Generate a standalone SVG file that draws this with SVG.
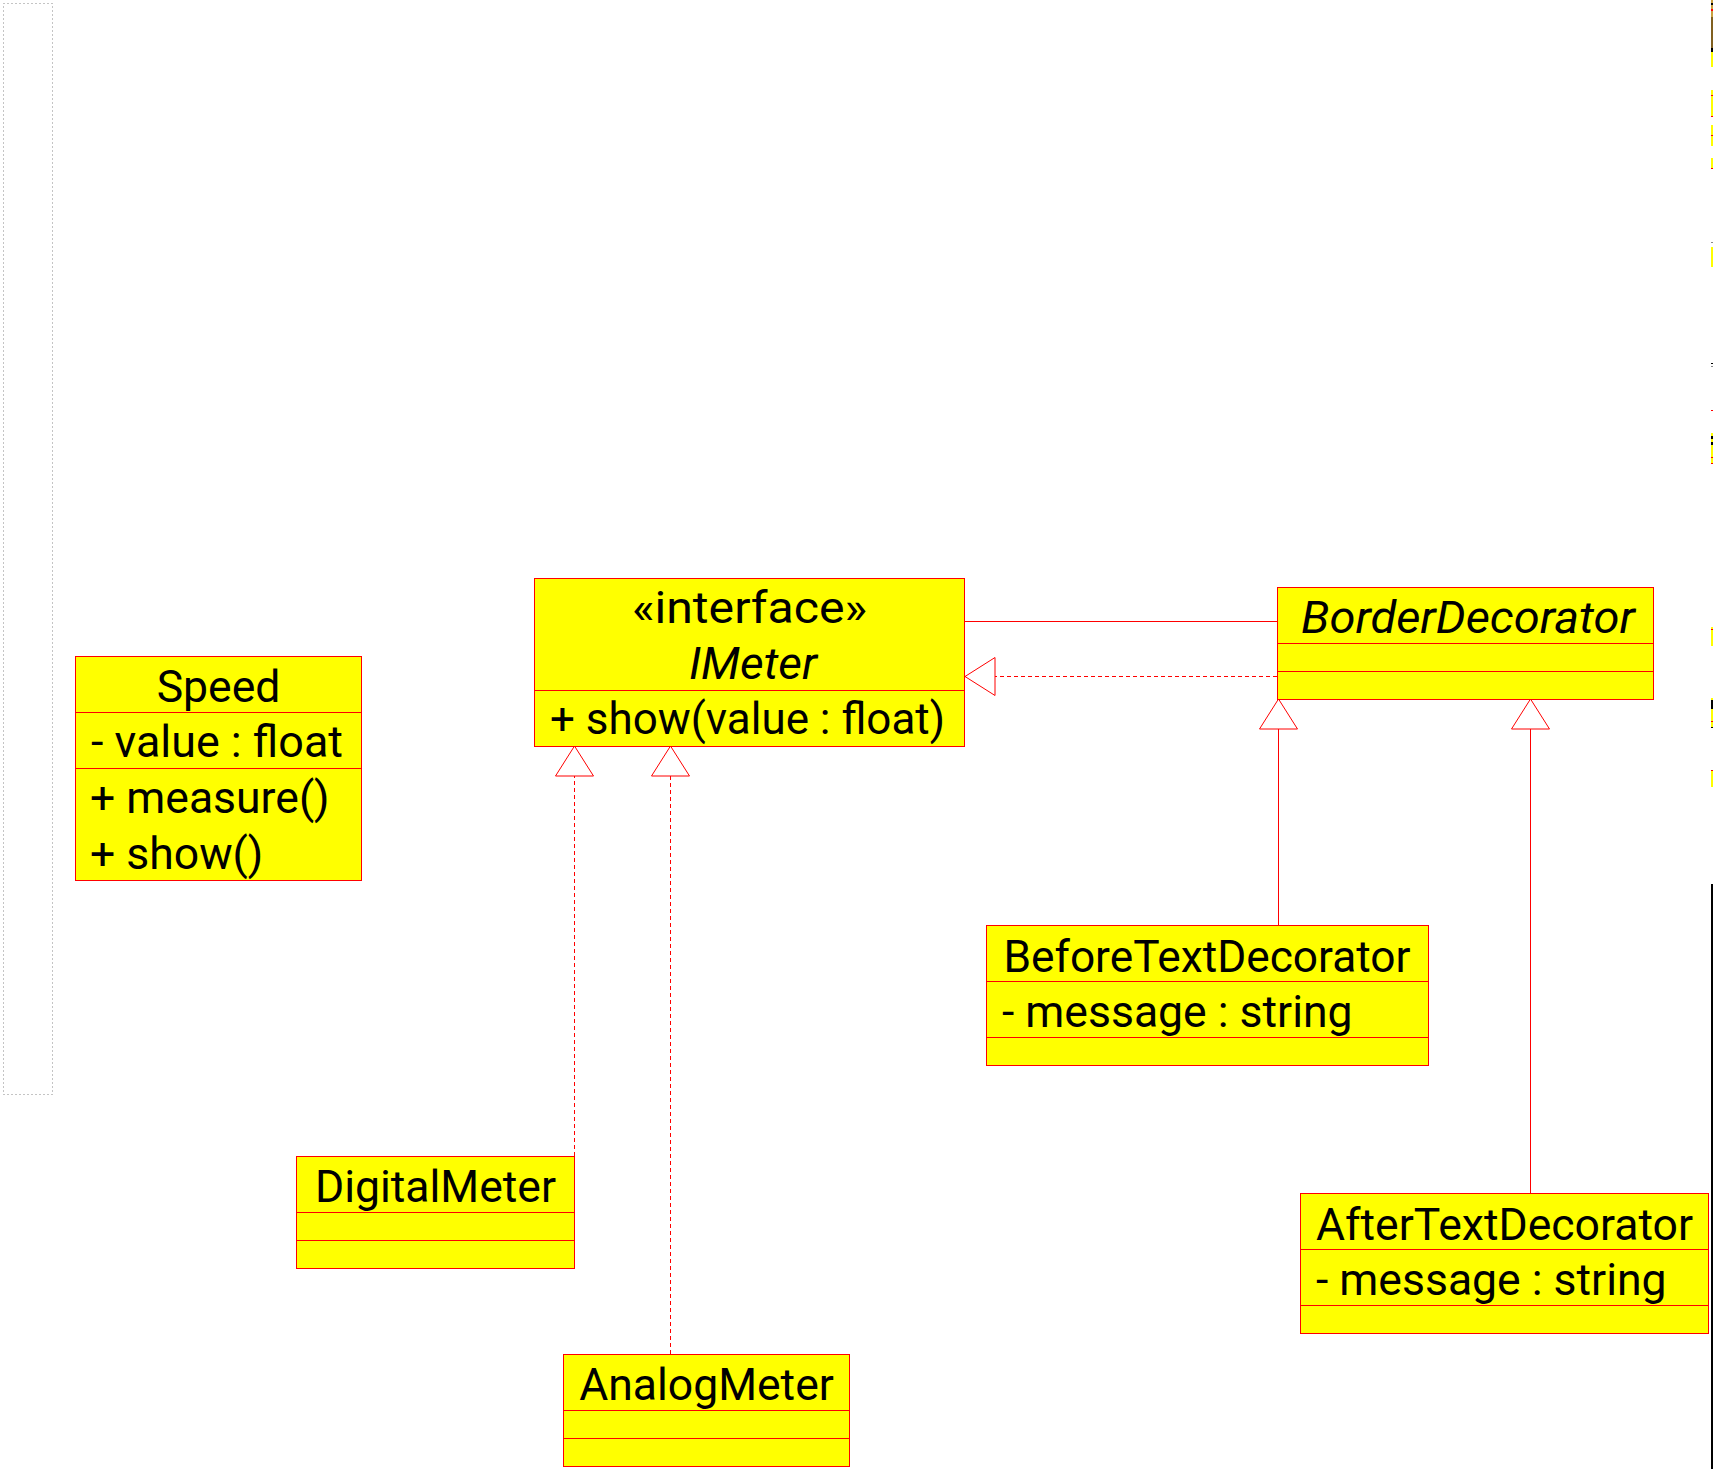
<svg xmlns="http://www.w3.org/2000/svg" width="1713" height="1469" viewBox="0 0 1713 1469">
<style>
.box{fill:#ffff00;stroke:#ff0000;stroke-width:1}
.div{stroke:#ff0000;stroke-width:1}
.t{font-family:Roboto,"Liberation Sans",sans-serif;font-size:44.5px;fill:#000}
.c{text-anchor:middle}
.i{font-style:italic}
.conn{fill:none;stroke:#ff0000;stroke-width:1}
.dash{stroke-dasharray:4 3}
.frag{stroke:none}
</style>
<defs>
<marker id="tri" markerUnits="userSpaceOnUse" viewBox="-1 -1 32 40" refX="30" refY="19" markerWidth="32" markerHeight="40" orient="auto" overflow="visible">
<path d="M0,0 L30,19 L0,38 Z" fill="#ffffff" stroke="#ff0000" stroke-width="1"/>
</marker>
</defs>
<rect x="0" y="0" width="1713" height="1469" fill="#ffffff"/>
<rect x="3.5" y="3.5" width="49" height="1091" fill="none" stroke="#888888" stroke-width="1" stroke-dasharray="1 3"/>

<g id="connectors">
<path class="conn" d="M965,621.5 L1277,621.5"/>
<path class="conn dash" d="M1277,676.5 L965,676.5" marker-end="url(#tri)"/>
<path class="conn dash" d="M574.5,1156 L574.5,746" marker-end="url(#tri)"/>
<path class="conn dash" d="M670.5,1354 L670.5,746" marker-end="url(#tri)"/>
<path class="conn" d="M1278.5,925 L1278.5,699" marker-end="url(#tri)"/>
<path class="conn" d="M1530.5,1193 L1530.5,699" marker-end="url(#tri)"/>
</g>

<g id="Speed">
<rect class="box" x="75.5" y="656.5" width="286" height="224"/>
<line class="div" x1="75.5" y1="712.5" x2="361.5" y2="712.5"/>
<line class="div" x1="75.5" y1="768.5" x2="361.5" y2="768.5"/>
<text class="t c" x="218.5" y="702">Speed</text>
<text class="t" x="91" y="757" textLength="252" lengthAdjust="spacingAndGlyphs">- value : float</text>
<text class="t" x="90" y="813">+ measure()</text>
<text class="t" x="90" y="869">+ show()</text>
</g>

<g id="IMeter">
<rect class="box" x="534.5" y="578.5" width="430" height="168"/>
<line class="div" x1="534.5" y1="690.5" x2="964.5" y2="690.5"/>
<text class="t c" x="749.5" y="623" textLength="235" lengthAdjust="spacingAndGlyphs">«interface»</text>
<text class="t c i" x="753" y="679" textLength="128" lengthAdjust="spacingAndGlyphs">IMeter</text>
<text class="t" x="550" y="734" textLength="395" lengthAdjust="spacingAndGlyphs">+ show(value : float)</text>
</g>

<g id="BorderDecorator">
<rect class="box" x="1277.5" y="587.5" width="376" height="112"/>
<line class="div" x1="1277.5" y1="643.5" x2="1653.5" y2="643.5"/>
<line class="div" x1="1277.5" y1="671.5" x2="1653.5" y2="671.5"/>
<text class="t c i" x="1468" y="633" textLength="334" lengthAdjust="spacingAndGlyphs">BorderDecorator</text>
</g>

<g id="BeforeTextDecorator">
<rect class="box" x="986.5" y="925.5" width="442" height="140"/>
<line class="div" x1="986.5" y1="981.5" x2="1428.5" y2="981.5"/>
<line class="div" x1="986.5" y1="1037.5" x2="1428.5" y2="1037.5"/>
<text class="t c" x="1207" y="972" textLength="407" lengthAdjust="spacingAndGlyphs">BeforeTextDecorator</text>
<text class="t" x="1002" y="1027">- message : string</text>
</g>

<g id="DigitalMeter">
<rect class="box" x="296.5" y="1156.5" width="278" height="112"/>
<line class="div" x1="296.5" y1="1212.5" x2="574.5" y2="1212.5"/>
<line class="div" x1="296.5" y1="1240.5" x2="574.5" y2="1240.5"/>
<text class="t c" x="435.5" y="1202">DigitalMeter</text>
</g>

<g id="AnalogMeter">
<rect class="box" x="563.5" y="1354.5" width="286" height="112"/>
<line class="div" x1="563.5" y1="1410.5" x2="849.5" y2="1410.5"/>
<line class="div" x1="563.5" y1="1438.5" x2="849.5" y2="1438.5"/>
<text class="t c" x="706.5" y="1400">AnalogMeter</text>
</g>

<g id="AfterTextDecorator">
<rect class="box" x="1300.5" y="1193.5" width="408" height="140"/>
<line class="div" x1="1300.5" y1="1249.5" x2="1708.5" y2="1249.5"/>
<line class="div" x1="1300.5" y1="1305.5" x2="1708.5" y2="1305.5"/>
<text class="t c" x="1504.5" y="1240" textLength="377" lengthAdjust="spacingAndGlyphs">AfterTextDecorator</text>
<text class="t" x="1316" y="1295">- message : string</text>
</g>

<g id="edge-fragments">
<rect class="frag" x="1711" y="0" width="2" height="17" fill="#c8a040"/>
<rect class="frag" x="1711" y="3" width="2" height="2" fill="#000"/>
<rect class="frag" x="1711" y="9" width="2" height="2" fill="#ff0000"/>
<rect class="frag" x="1711" y="17" width="2" height="31" fill="#806020"/>
<rect class="frag" x="1711" y="48" width="2" height="4" fill="#000"/>
<rect class="frag" x="1711" y="52" width="2" height="15" fill="#ffff00"/>
<rect class="frag" x="1711" y="90" width="2" height="27" fill="#ffff00"/>
<rect class="frag" x="1711" y="95" width="2" height="1" fill="#ff0000"/>
<rect class="frag" x="1711" y="116" width="2" height="1" fill="#ff0000"/>
<rect class="frag" x="1711" y="125" width="2" height="21" fill="#ffff00"/>
<rect class="frag" x="1711" y="135" width="2" height="1" fill="#ff0000"/>
<rect class="frag" x="1711" y="158" width="2" height="10" fill="#ffff00"/>
<rect class="frag" x="1711" y="168" width="2" height="1" fill="#ff0000"/>
<rect class="frag" x="1711" y="242" width="2" height="1" fill="#888"/>
<rect class="frag" x="1711" y="247" width="2" height="20" fill="#ffff00"/>
<rect class="frag" x="1711" y="363" width="2" height="1" fill="#000"/>
<rect class="frag" x="1711" y="366" width="2" height="1" fill="#888"/>
<rect class="frag" x="1711" y="410" width="2" height="1" fill="#ff0000"/>
<rect class="frag" x="1711" y="433" width="2" height="30" fill="#ffff00"/>
<rect class="frag" x="1711" y="436" width="2" height="3" fill="#000"/>
<rect class="frag" x="1711" y="442" width="2" height="3" fill="#000"/>
<rect class="frag" x="1711" y="457" width="2" height="1" fill="#ff0000"/>
<rect class="frag" x="1711" y="463" width="2" height="1" fill="#ff0000"/>
<rect class="frag" x="1711" y="627" width="2" height="19" fill="#ffff00"/>
<rect class="frag" x="1711" y="629" width="2" height="1" fill="#ff0000"/>
<rect class="frag" x="1711" y="698" width="2" height="29" fill="#ffff00"/>
<rect class="frag" x="1711" y="700" width="2" height="9" fill="#000"/>
<rect class="frag" x="1711" y="721" width="2" height="1" fill="#ff0000"/>
<rect class="frag" x="1711" y="727" width="2" height="1" fill="#000"/>
<rect class="frag" x="1711" y="770" width="2" height="17" fill="#ffff00"/>
<rect class="frag" x="1711" y="770" width="2" height="1" fill="#ff0000"/>
<rect class="frag" x="1711" y="884" width="2" height="585" fill="#000"/>
</g>
</svg>
